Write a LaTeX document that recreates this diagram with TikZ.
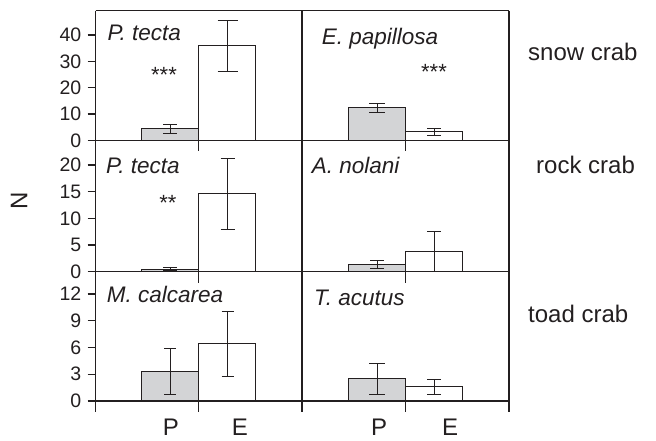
\documentclass[tikz,border=0pt]{standalone}
\usepackage{fontspec}
\setmainfont{Liberation Sans}
\usetikzlibrary{positioning}
\definecolor{ink}{RGB}{35,31,32}
\definecolor{barfill}{RGB}{211,212,214}
% error bar: x, low, high, half cap width
\newcommand{\errbar}[4]{\draw[whisker] (#1,#2) -- (#1,#3) (#1-#4,#3) -- (#1+#4,#3) (#1-#4,#2) -- (#1+#4,#2);}

\begin{document}
\begin{tikzpicture}[
        x=1pt, y=1pt,
        frame/.style={draw=ink, line width=1.2pt},
        pbar/.style={draw=ink, line width=0.9pt, fill=barfill},
        ebar/.style={draw=ink, line width=0.9pt, fill=white},
        whisker/.style={draw=ink, line width=0.9pt},
        ticklabel/.style={text=ink, font=\fontsize{19.5}{19.5}\selectfont, anchor=east, inner sep=0pt},
        species/.style={text=ink, font=\fontsize{22.5}{22.5}\selectfont\itshape, anchor=base west, inner sep=0pt},
        crab/.style={text=ink, font=\fontsize{24}{24}\selectfont, anchor=base west, inner sep=0pt},
        stars/.style={text=ink, font=\fontsize{22}{22}\selectfont, anchor=base, inner sep=0pt},
        axislabel/.style={text=ink, font=\fontsize{24}{24}\selectfont, anchor=base, inner sep=0pt}]

    \useasboundingbox (0,0) rectangle (656,441);

    % snow crab row
    \begin{scope}[shift={(0,300.7)}, y=2.63pt]
        \draw[pbar] (141.7,0) rectangle (198.8,4.4);
        \draw[ebar] (198.8,0) rectangle (255.3,35.9);
        \draw[pbar] (348.7,0) rectangle (405.5,12.4);
        \draw[ebar] (405.5,0) rectangle (462.3,3.2);
        \errbar{170}{2.5}{6.1}{7}
        \errbar{227.5}{26}{45.6}{10}
        \errbar{377}{10.5}{14.1}{8}
        \errbar{434}{2.0}{4.6}{7}
        \foreach \v in {0,10,...,40} {
            \draw[frame] (87.5,\v) -- (95.7,\v);
            \node[ticklabel] (snow-\v) at (81.5,\v) {\v};
        }
    \end{scope}

    % rock crab row
    \begin{scope}[shift={(0,169.3)}, y=5.33pt]
        \draw[pbar] (141.7,0) rectangle (198.8,0.5);
        \draw[ebar] (198.8,0) rectangle (255.3,14.7);
        \draw[pbar] (348.7,0) rectangle (405.5,1.4);
        \draw[ebar] (405.5,0) rectangle (462.3,3.75);
        \errbar{170}{0.2}{0.8}{7}
        \errbar{227.5}{8.0}{21.3}{7}
        \errbar{377}{0.6}{2.1}{7}
        \draw[whisker] (434,0) -- (434,7.5) (427,7.5) -- (441,7.5);
        \foreach \v in {0,5,...,20} {
            \draw[frame] (87.5,\v) -- (95.7,\v);
            \node[ticklabel] (rock-\v) at (81.5,\v) {\v};
        }
    \end{scope}

    % toad crab row
    \begin{scope}[shift={(0,40)}, y=8.92pt]
        \draw[pbar] (141.7,0) rectangle (198.8,3.33);
        \draw[ebar] (198.8,0) rectangle (255.3,6.42);
        \draw[pbar] (348.7,0) rectangle (405.5,2.54);
        \draw[ebar] (405.5,0) rectangle (462.3,1.65);
        \errbar{170}{0.7}{5.9}{6}
        \errbar{227.5}{2.8}{10.0}{6}
        \errbar{377}{0.78}{4.18}{8}
        \errbar{434}{0.78}{2.43}{7}
        \foreach \v in {0,3,...,12} {
            \draw[frame] (87.5,\v) -- (95.7,\v);
            \node[ticklabel] (toad-\v) at (81.5,\v) {\v};
        }
    \end{scope}

    % panel frames
    \draw[frame] (95.7,430.3) -- (509,430.3);
    \foreach \y in {300.7,169.3,40} {
        \draw[frame] (95.7,\y) -- (509,\y);
        \draw[frame] (198.8,\y) -- (198.8,\y-11);
        \draw[frame] (405.5,\y) -- (405.5,\y-11);
    }
    \foreach \x in {95.7,302,509}
        \draw[frame] (\x,430.3) -- (\x,28.5);

    \node[species] (tecta1) at (107.3,400) {P. tecta};
    \node[species] (papillosa) at (321.7,396.7) {E. papillosa};
    \node[species] (tecta2) at (106,267.7) {P. tecta};
    \node[species] (nolani) at (311.7,267.7) {A. nolani};
    \node[species] (calcarea) at (106.7,138.7) {M. calcarea};
    \node[species] (acutus) at (314,135.3) {T. acutus};

    \node[stars] (sig1) at (164,358) {***};
    \node[stars] (sig2) at (434,361) {***};
    \node[stars] (sig3) at (168,230) {**};

    \node[crab] (snow) at (528,380) {snow crab};
    \node[crab] (rock) at (536,267.7) {rock crab};
    \node[crab] (toad) at (528,118.7) {toad crab};

    \node[axislabel] (P1) at (171,5) {P};
    \node[axislabel] (E1) at (240,5) {E};
    \node[axislabel] (P2) at (379,5) {P};
    \node[axislabel] (E2) at (450,5) {E};
    \node[text=ink, font=\fontsize{24}{24}\selectfont, rotate=90, inner sep=0pt] (N) at (19,240) {N};
\end{tikzpicture}
\end{document}
